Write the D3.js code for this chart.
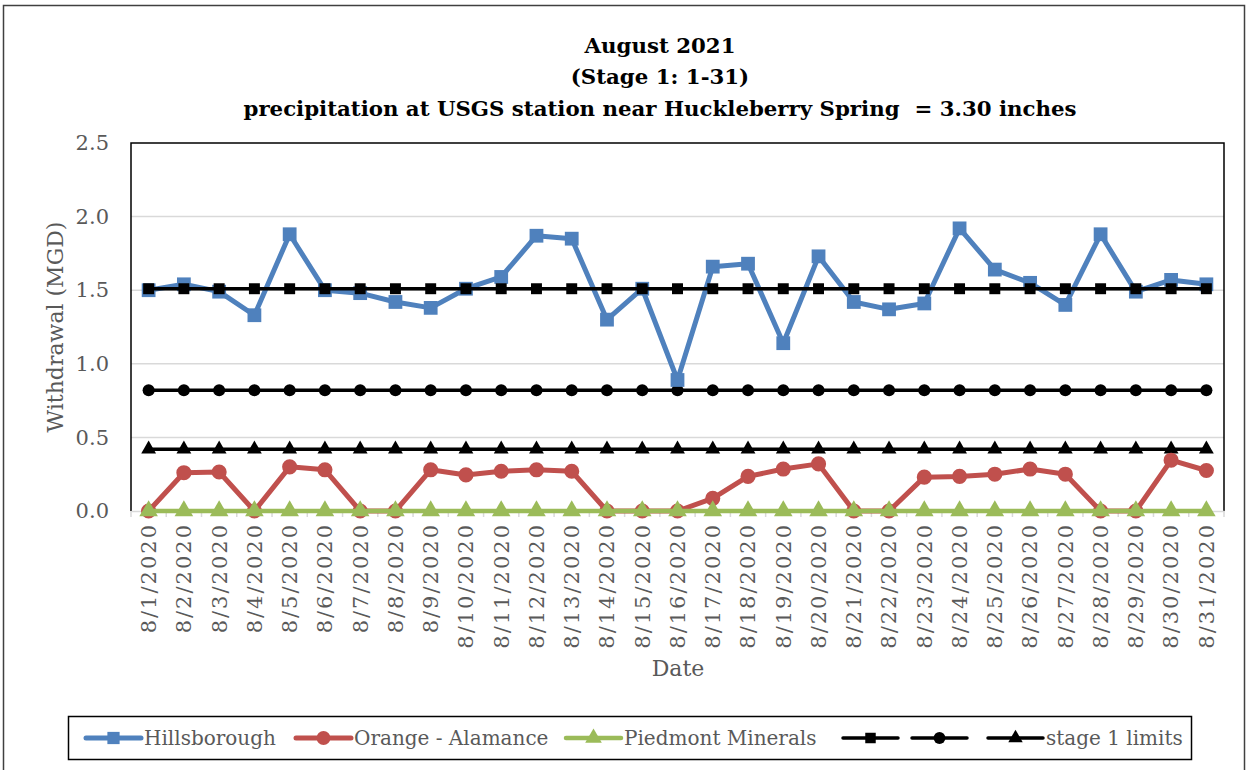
<!DOCTYPE html>
<html>
<head>
<meta charset="utf-8">
<script src="https://cdn.jsdelivr.net/npm/d3@7"></script>
<style>
  body { margin: 0; background: #fff; }
  text { font-family: "DejaVu Serif", serif; }
</style>
</head>
<body>
<div id="chart"></div>
<script>
// data
const dates = ["8/1/2020","8/2/2020","8/3/2020","8/4/2020","8/5/2020","8/6/2020","8/7/2020","8/8/2020",
  "8/9/2020","8/10/2020","8/11/2020","8/12/2020","8/13/2020","8/14/2020","8/15/2020","8/16/2020",
  "8/17/2020","8/18/2020","8/19/2020","8/20/2020","8/21/2020","8/22/2020","8/23/2020","8/24/2020",
  "8/25/2020","8/26/2020","8/27/2020","8/28/2020","8/29/2020","8/30/2020","8/31/2020"];
const hillsborough = [1.50,1.54,1.49,1.33,1.88,1.50,1.48,1.42,1.38,1.51,1.59,1.87,1.85,1.30,1.51,0.89,
  1.66,1.68,1.14,1.73,1.42,1.37,1.41,1.92,1.64,1.55,1.40,1.88,1.49,1.57,1.54];
const orangeAlamance = [0,0.26,0.265,0,0.30,0.28,0,0,0.28,0.245,0.27,0.28,0.27,0,0,0,
  0.086,0.235,0.285,0.32,0,0,0.23,0.235,0.25,0.285,0.25,0,0,0.345,0.275];
const piedmont = [0,0,0,0,0,0,0,0,0,0,0,0,0,0,0,0,0,0,0,0,0,0,0,0,0,0,0,0,0,0,0];
const limitHills = 1.51;
const limitOrange = 0.82;
const limitPiedmont = 0.42;
const yTicks = [0, 0.5, 1.0, 1.5, 2.0, 2.5];

const W = 1249, H = 770;
const plot = {left: 131, right: 1224, top: 143, bottom: 511};

const svg = d3.select("#chart").append("svg")
  .attr("width", W).attr("height", H);

// outer frame
svg.append("rect")
  .attr("x", 3.5).attr("y", 5.5).attr("width", 1241).attr("height", 800)
  .attr("fill", "none").attr("stroke", "#404040").attr("stroke-width", 1.5);

const x = d3.scaleBand().domain(dates).range([plot.left, plot.right]);
const y = d3.scaleLinear().domain([0, 2.5]).range([plot.bottom, plot.top]);
const cx = d => x(d) + x.bandwidth() / 2;

// title
const title = svg.append("text")
  .attr("text-anchor", "middle")
  .attr("font-weight", "bold")
  .attr("font-size", "21.3px")
  .attr("fill", "#000");
[["August 2021", 53], ["(Stage 1: 1-31)", 84], ["precipitation at USGS station near Huckleberry Spring  = 3.30 inches", 116]]
  .forEach(([t, yy]) => {
    title.append("tspan").attr("x", 660).attr("y", yy).style("white-space", "pre").text(t);
  });

// gridlines
svg.append("g").selectAll("line")
  .data(yTicks.filter(t => t > 0 && t < 2.5))
  .join("line")
  .attr("x1", plot.left).attr("x2", plot.right)
  .attr("y1", d => y(d)).attr("y2", d => y(d))
  .attr("stroke", "#d9d9d9").attr("stroke-width", 1.5);

// plot border (top, right, left)
svg.append("path")
  .attr("d", `M${plot.left},${plot.bottom}V${plot.top}H${plot.right}V${plot.bottom}`)
  .attr("fill", "none").attr("stroke", "#000").attr("stroke-width", 1.5);

// y axis
const yAxis = svg.append("g")
  .attr("transform", `translate(${plot.left},0)`)
  .call(d3.axisLeft(y).tickValues(yTicks).tickFormat(d3.format(".1f")).tickSize(0).tickPadding(22));
yAxis.select(".domain").remove();
yAxis.selectAll("text")
  .attr("font-family", "DejaVu Serif, serif")
  .attr("font-size", "21px").attr("fill", "#595959");

// x axis
const xAxis = svg.append("g")
  .attr("transform", `translate(0,${plot.bottom})`)
  .call(d3.axisBottom(x).tickSize(0).tickPadding(0));
xAxis.select(".domain").attr("stroke", "#d9d9d9").attr("stroke-width", 1.5);
xAxis.selectAll("text")
  .attr("font-family", "DejaVu Serif, serif")
  .attr("font-size", "21px").attr("fill", "#595959")
  .attr("letter-spacing", "2px")
  .attr("transform", "rotate(-90)")
  .attr("text-anchor", "end")
  .attr("x", -12).attr("y", 0).attr("dy", "0.35em");
// category tick marks between bands
xAxis.append("g").selectAll("line")
  .data(dates.concat(["end"]))
  .join("line")
  .attr("x1", (d, i) => plot.left + i * x.bandwidth())
  .attr("x2", (d, i) => plot.left + i * x.bandwidth())
  .attr("y1", 0).attr("y2", 6)
  .attr("stroke", "#d9d9d9").attr("stroke-width", 1.5);

// axis titles
svg.append("text")
  .attr("transform", `translate(63,${(plot.top + plot.bottom) / 2}) rotate(-90)`)
  .attr("text-anchor", "middle")
  .attr("font-size", "22px").attr("fill", "#595959")
  .text("Withdrawal (MGD)");
svg.append("text")
  .attr("x", 678).attr("y", 676)
  .attr("text-anchor", "middle")
  .attr("font-size", "22px").attr("fill", "#595959")
  .text("Date");

// series
const series = [
  {name: "Hillsborough", values: hillsborough, color: "#4f81bd", width: 5, marker: d3.symbolSquare, size: 190, lsize: 150},
  {name: "Orange - Alamance", values: orangeAlamance, color: "#c0504d", width: 5, marker: d3.symbolCircle, size: 180, lsize: 150},
  {name: "Piedmont Minerals", values: piedmont, color: "#9bbb59", width: 4.5, marker: d3.symbolTriangle, size: 150, lsize: 120},
  {name: "", values: dates.map(() => limitHills), color: "#000", width: 3.5, marker: d3.symbolSquare, size: 120, lsize: 110},
  {name: "", values: dates.map(() => limitOrange), color: "#000", width: 3.5, marker: d3.symbolCircle, size: 115, lsize: 110},
  {name: "stage 1 limits", values: dates.map(() => limitPiedmont), color: "#000", width: 3.5, marker: d3.symbolTriangle, size: 95, lsize: 90}
];

const line = d3.line().x((d, i) => cx(dates[i])).y(d => y(d));

const drawOrder = [4, 5, 0, 1, 2, 3];
drawOrder.forEach(k => {
  const s = series[k];
  const g = svg.append("g");
  g.append("path")
    .datum(s.values)
    .attr("d", line)
    .attr("fill", "none")
    .attr("stroke", s.color)
    .attr("stroke-width", s.width)
    .attr("stroke-linejoin", "round");
  g.selectAll("path.m")
    .data(s.values)
    .join("path")
    .attr("class", "m")
    .attr("d", d3.symbol(s.marker, s.size))
    .attr("transform", (d, i) => `translate(${cx(dates[i])},${y(d)})`)
    .attr("fill", s.color);
});

// legend
const legend = svg.append("g");
legend.append("rect")
  .attr("x", 68.5).attr("y", 716.5).attr("width", 1123).attr("height", 43)
  .attr("fill", "#fff").attr("stroke", "#000").attr("stroke-width", 1.5);

const legendX = [86, 296, 566, 843, 912, 988];
series.forEach((s, i) => {
  const lx = legendX[i], ly = 738;
  const g = legend.append("g");
  g.append("line")
    .attr("x1", lx).attr("x2", lx + 55)
    .attr("y1", ly).attr("y2", ly)
    .attr("stroke", s.color).attr("stroke-width", s.width)
    .attr("stroke-linecap", "round");
  g.append("path")
    .attr("d", d3.symbol(s.marker, s.lsize))
    .attr("transform", `translate(${lx + 27.5},${ly})`)
    .attr("fill", s.color);
  if (s.name) {
    g.append("text")
      .attr("x", lx + 58).attr("y", ly).attr("dy", "0.35em")
      .attr("font-size", "20px").attr("fill", "#595959")
      .text(s.name);
  }
});
</script>
</body>
</html>
